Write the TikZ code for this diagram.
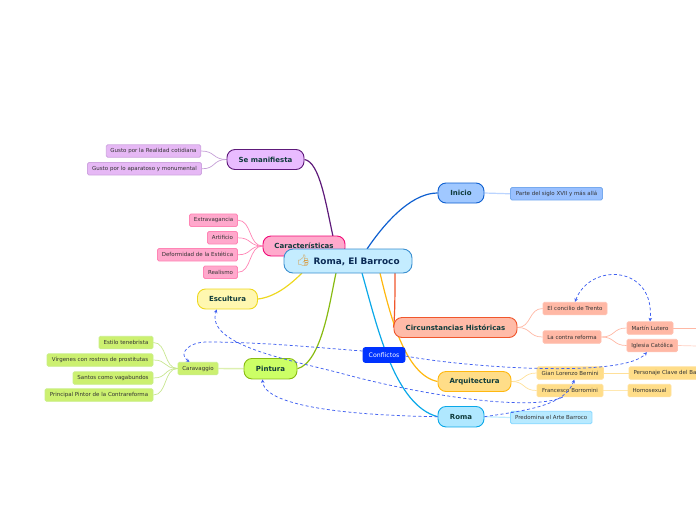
\documentclass[tikz,border=0pt]{standalone}
\usepackage{fontspec}
\setmainfont{DejaVu Sans}
\newfontfamily\emojifont{Noto Emoji}[Scale=1.25]
\usetikzlibrary{arrows.meta,backgrounds}
\definecolor{txtmain}{HTML}{0F3B3B}
\definecolor{txtsub}{HTML}{333333}
\definecolor{txtroot}{HTML}{0A2A55}
\definecolor{thumb}{HTML}{D89A40}
\definecolor{rel}{HTML}{4060F0}
\definecolor{seF}{HTML}{E9BBFF}\definecolor{seD}{HTML}{5E1A7A}\definecolor{seLF}{HTML}{E6B8F5}\definecolor{seLD}{HTML}{CFA6E0}\definecolor{seT}{HTML}{C49FD6}
\definecolor{caF}{HTML}{FFAACC}\definecolor{caD}{HTML}{F00A78}\definecolor{caLF}{HTML}{FFA8CC}\definecolor{caLD}{HTML}{FF85B5}
\definecolor{esF}{HTML}{FFF7B0}\definecolor{esD}{HTML}{EED820}
\definecolor{piF}{HTML}{CCFF66}\definecolor{piD}{HTML}{88BB11}\definecolor{piLF}{HTML}{CCF070}\definecolor{piLD}{HTML}{C8EE88}\definecolor{piT}{HTML}{C8E690}\definecolor{piW}{HTML}{DDF0B0}
\definecolor{inF}{HTML}{A0C8FF}\definecolor{inD}{HTML}{0E5FD0}\definecolor{inLF}{HTML}{99C0FF}\definecolor{inLD}{HTML}{77AAEE}\definecolor{inW}{HTML}{BBD4FF}
\definecolor{ciF}{HTML}{FFBBA8}\definecolor{ciD}{HTML}{F0562C}\definecolor{ciLF}{HTML}{FFB8A5}\definecolor{ciLD}{HTML}{FFC0B0}\definecolor{ciW}{HTML}{FFCFC2}
\definecolor{arF}{HTML}{FFDD88}\definecolor{arD}{HTML}{FFB810}\definecolor{arLD}{HTML}{FFE099}\definecolor{arW}{HTML}{FFE8B0}
\definecolor{roF}{HTML}{B0E8FF}\definecolor{roD}{HTML}{0AA8E8}\definecolor{roLF}{HTML}{B8EAFF}\definecolor{roLD}{HTML}{88D8FF}\definecolor{roW}{HTML}{C0ECFF}
\definecolor{rootF}{HTML}{C4ECFF}\definecolor{rootD}{HTML}{3A8FD0}
\definecolor{conF}{HTML}{0033FF}
\tikzset{
 x=1pt,y=-1pt,
 topic/.style={draw,line width=0.9pt,rounded corners=8pt,inner sep=0pt,text=txtmain,font=\bfseries\fontsize{7}{8}\selectfont},
 leaf/.style={draw,line width=0.8pt,rounded corners=1.5pt,inner sep=0pt,text=txtsub,font=\fontsize{5.5}{6.5}\selectfont},
 branch/.style={line width=1.2pt},
 twig/.style={line width=0.7pt},
 relation/.style={draw=rel,line width=0.75pt,dash pattern=on 3pt off 2.4pt,-{Stealth[length=3.5pt,width=3.5pt]}},
 relboth/.style={relation,{Stealth[length=3.5pt,width=3.5pt]}-{Stealth[length=3.5pt,width=3.5pt]}},
 box/.style args={#1/#2}{minimum width=#1pt,minimum height=#2pt},
}
\begin{document}
\begin{tikzpicture}
\useasboundingbox (0,0) rectangle (696,520);
% topics
\node[topic,box=77/20,fill=seF,draw=seD] (se) at (265.5,159.5) {Se manifiesta};
\node[topic,box=82/20,fill=caF,draw=caD] (car) at (304,246) {Características};
\node[topic,box=60/20,fill=esF,draw=esD] (esc) at (227.5,299) {Escultura};
\node[topic,box=53/20.5,fill=piF,draw=piD] (pin) at (270.5,368.7) {Pintura};
\node[topic,box=46/20,fill=inF,draw=inD] (ini) at (461,193) {Inicio};
\node[topic,box=123/20,fill=ciF,draw=ciD] (cir) at (455.5,327.5) {Circunstancias Históricas};
\node[topic,box=73/20,fill=arF,draw=arD] (arq) at (474.5,381.5) {Arquitectura};
\node[topic,box=46/20.5,fill=roF,draw=roD] (rom) at (461,416.7) {Roma};
\node[topic,box=128/24,fill=rootF,draw=rootD,rounded corners=9pt,text=txtroot,font=\bfseries\fontsize{8.9}{10}\selectfont] (root) at (348,261) {{\emojifont\textcolor{thumb}{👍}} Roma, El Barroco};
% leaves
\node[leaf,box=94.5/12.5,fill=seLF,draw=seLD] (g1) at (153.5,151) {Gusto por la Realidad cotidiana};
\node[leaf,box=114/12.5,fill=seLF,draw=seLD] (g2) at (144.5,168.8) {Gusto por lo aparatoso y monumental};
\node[leaf,box=48/12.5,fill=caLF,draw=caLD] (c1) at (213.5,220.2) {Extravagancia};
\node[leaf,box=30/12.5,fill=caLF,draw=caLD] (c2) at (222.5,237.8) {Artificio};
\node[leaf,box=80/12.5,fill=caLF,draw=caLD] (c3) at (197.5,254.8) {Deformidad de la Estética};
\node[leaf,box=34/12.5,fill=caLF,draw=caLD] (c4) at (220.5,272.3) {Realismo};
\node[leaf,box=40/12.5,fill=piLF,draw=piLD] (cv) at (198,368.5) {Caravaggio};
\node[leaf,box=54/12.5,fill=piLF,draw=piLD] (p1) at (126,342.5) {Estilo tenebrista};
\node[leaf,box=106/12.5,fill=piLF,draw=piLD] (p2) at (100,360) {Vírgenes con rostros de prostitutas};
\node[leaf,box=80/12.5,fill=piLF,draw=piLD] (p3) at (113,378) {Santos como vagabundos};
\node[leaf,box=108/12.5,fill=piLF,draw=piLD] (p4) at (99,395) {Principal Pintor de la Contrareforma};
\node[leaf,box=92/12.5,fill=inLF,draw=inLD] (i1) at (556.5,193.8) {Parte del siglo XVII y más allá};
\node[leaf,box=64/12.5,fill=ciLF,draw=ciLD] (h1) at (575,308.5) {El concilio de Trento};
\node[leaf,box=58/12.5,fill=ciLF,draw=ciLD] (h2) at (572,337) {La contra reforma};
\node[leaf,box=46/12.5,fill=ciLF,draw=ciLD] (h3) at (650,328) {Martín Lutero};
\node[leaf,box=50.5/12.5,fill=ciLF,draw=ciLD] (h4) at (652.2,345.5) {Iglesia Católica};
\node[leaf,box=66.5/12.5,fill=arF,draw=arLD] (a1) at (570.2,373) {Gian Lorenzo Bernini};
\node[leaf,box=66/12.5,fill=arF,draw=arLD] (a2) at (570,390.5) {Francesco Borromini};
\node[leaf,box=72/12.5,fill=arF,draw=arLD] (a3) at (665,373) {Personaje Clave del Ba};
\node[leaf,box=43/12.5,fill=arF,draw=arLD] (a4) at (649.5,390.5) {Homosexual};
\node[leaf,box=81.5/12.5,fill=roLF,draw=roLD] (r1) at (551.2,417.5) {Predomina el Arte Barroco};
\node[leaf,box=42/15,rounded corners=2.5pt,fill=conF,draw=conF,text=white,font=\fontsize{6.2}{7}\selectfont] (con) at (384,355) {Conflictos};
% free ends
\coordinate (h3end) at (697,328);
\coordinate (h4end) at (697,346);
\begin{scope}[on background layer]
 % main branches
 \draw[branch,seD] (root.center)++(-14,-20) .. controls (326,205) and (320,162) .. (se.east);
 \draw[branch,esD] (root.center)++(-46,12) .. controls (290,285) and (275,297) .. (esc.east);
 \draw[branch,piD] (root.center)++(-12,12) .. controls (330,300) and (322,362) .. (pin.east);
 \draw[branch,inD] (root.center)++(19,-12) .. controls (390,215) and (415,193) .. (ini.west);
 \draw[branch,ciD] (root.center)++(47,12) .. controls (395,290) and (395,315) .. (cir.west);
 \draw[branch,arD] (root.center)++(32,12) .. controls (390,315) and (405,375) .. (arq.west);
 \draw[branch,roD] (root.center)++(14,12) .. controls (378,330) and (395,405) .. (rom.west);
 % twigs
 \foreach \n in {g1,g2} \draw[twig,seT] (se.west) .. controls +(-14,0) and +(14,0) .. (\n.east);
 \foreach \n in {c1,c2,c3,c4} \draw[twig,caLD] (car.west) .. controls +(-14,0) and +(14,0) .. (\n.east);
 \foreach \n in {p1,p2,p3,p4} \draw[twig,piT] (cv.west) .. controls +(-14,0) and +(14,0) .. (\n.east);
 \draw[line width=1.4pt,piW] (pin.west) -- (cv.east);
 \draw[line width=1.2pt,inW] (ini.east) -- (i1.west);
 \foreach \n in {h1,h2} \draw[twig,ciLF] (cir.east) .. controls +(14,0) and +(-14,0) .. (\n.west);
 \foreach \n in {h3,h4} \draw[twig,ciLF] (h2.east) .. controls +(14,0) and +(-14,0) .. (\n.west);
 \draw[twig,ciLF] (h3.east) -- (h3end);
 \draw[twig,ciW] (h4.east) -- (h4end);
 \foreach \n in {a1,a2} \draw[twig,arLD] (arq.east) .. controls +(14,0) and +(-14,0) .. (\n.west);
 \draw[twig,arLD] (a1.east) -- (a3.west);
 \draw[twig,arW] (a2.east) -- (a4.west);
 \draw[line width=1.2pt,roW] (rom.east) -- (r1.west);
\end{scope}
% relations
\draw[relation] (con.west) ++(0,-4) .. controls (310,347) and (260,342) .. (207,342) .. controls (188,342) and (178,354) .. (cv.142);
\draw[relation] (con.east) ++(0,1) .. controls (470,368) and (625,378) .. (h4.231);
\draw[relation] (a2.222) .. controls (530,412) and (420,395) .. (340,373) .. controls (290,360) and (205,345) .. (esc.224);
\draw[relation] (rom.west) .. controls (390,416) and (265,412) .. (pin.233);
\draw[relation] (rom.east) .. controls (530,410) and (565,405) .. (a1.302);
\draw[relboth] (h1.north) .. controls (590,262) and (655,265) .. (h3.north);
\end{tikzpicture}
\end{document}
